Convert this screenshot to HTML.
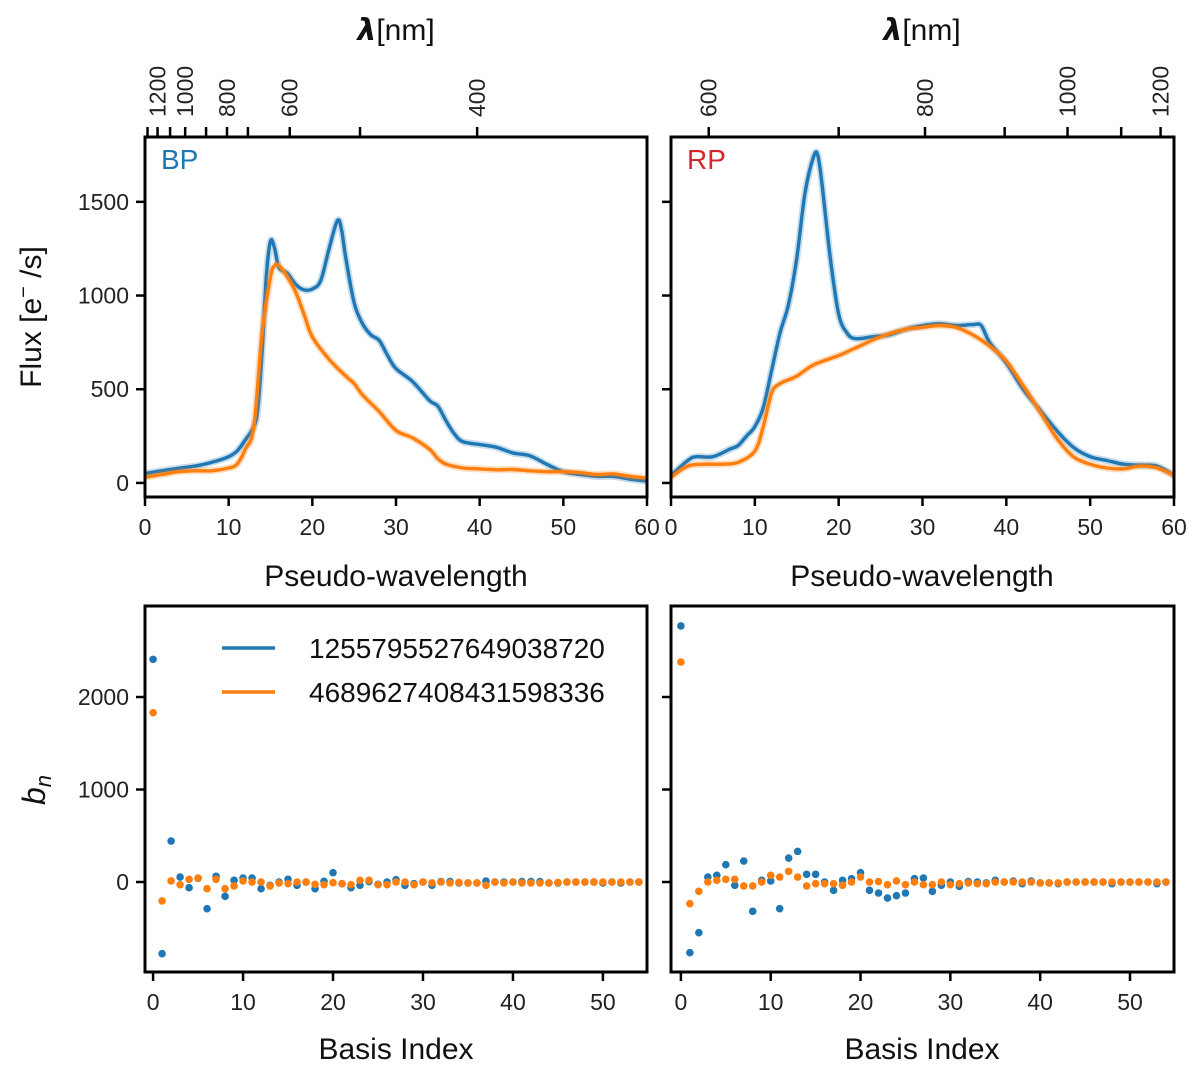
<!DOCTYPE html>
<html><head><meta charset="utf-8"><style>
body{margin:0;background:#fff}
svg{display:block;font-family:"Liberation Sans",sans-serif}
</style></head><body>
<svg id="fig" width="1200" height="1069" viewBox="0 0 1200 1069"></svg>
<script>
const bpX=[0,2,4,6,8,10,11,12,13,13.5,14,14.5,15,15.5,16,17,18,19,20,21,22,23,23.5,24,25,26,27,28,29,30,32,34,35,36,37,38,40,42,44,46,48,50,52,54,56,58,60];
const bpBlue=[50,65,78,90,110,140,170,230,300,400,700,1100,1290,1250,1150,1120,1060,1030,1035,1080,1250,1400,1350,1200,960,850,790,760,680,610,540,440,410,330,260,220,205,190,160,145,100,60,45,35,35,20,10];
const bpOrX=[0,2,4,6,8,10,11,12,13,14,15,15.5,16,17,18,19,20,22,24,25,26,28,30,32,34,35,36,38,40,42,44,46,48,50,52,54,56,58,60];
const bpOrange=[30,45,60,65,65,80,100,180,300,800,1100,1160,1160,1100,1020,900,780,660,570,530,470,380,280,240,180,130,100,80,75,70,72,65,60,60,55,45,48,35,25];
const rpX=[0,2,3,5,7,8,9,10,11,12,13,14,15,16,17,17.5,18,19,20,21,22,24,26,28,30,32,34,36,37,38,40,42,44,46,48,50,52,54,56,58,60];
const rpBlue=[40,120,140,140,180,200,250,300,400,600,800,950,1200,1550,1740,1750,1600,1200,900,800,770,780,790,820,840,850,840,845,840,750,640,500,390,280,190,140,120,100,95,90,40];
const rpOrX=[0,2,4,6,8,10,11,12,13,15,17,20,22,25,28,30,32,34,36,38,40,42,44,46,48,50,52,54,56,58,60];
const rpOrange=[30,90,100,100,110,170,300,480,530,570,630,680,720,780,820,830,840,830,790,730,650,520,380,240,140,100,80,75,90,80,40];
const bnBPBlue=[2407,-775,443,54,-61,40,-288,61,-155,18,43,43,-72,-36,0,29,-36,0,-72,7,101,-18,-61,-36,5,-25,0,25,-36,-18,0,-36,5,5,-10,-10,-10,10,0,0,0,5,5,5,-10,-10,0,0,0,0,-10,0,-10,0,0];
const bnBPOrange=[1830,-205,11,-29,29,43,-72,29,-72,-43,11,0,0,-43,-11,-18,0,0,-25,-29,-7,-18,-29,18,18,-29,-29,0,0,-29,0,-10,0,-10,-5,-10,-10,-36,0,-10,0,-10,-10,-10,-10,-5,0,0,0,0,0,0,0,0,0];
const bnRPBlue=[2768,-764,-548,54,72,187,-36,227,-317,18,11,-288,259,331,83,83,0,-90,18,36,101,-90,-119,-173,-148,-119,36,43,-101,-36,0,-47,5,0,-10,18,0,10,-18,10,-10,-10,-18,0,0,0,0,0,-18,0,0,0,0,-18,0];
const bnRPOrange=[2378,-234,-101,0,18,29,29,-43,-43,0,72,54,115,54,-43,-18,-18,-18,-36,0,54,0,5,-29,11,-29,0,-29,-29,0,-29,-18,-10,-18,-18,0,0,0,0,0,-10,-10,-10,0,0,0,0,0,0,0,0,0,0,0,0];
const fluxTicks=[0,500,1000,1500];
const bnTicks=[0,1000,2000];
const pxTicks=[0,10,20,30,40,50,60];
const idxTicks=[0,10,20,30,40,50];
const bpNmLabels=[1200,1000,800,600,400];
const bpNmMinor=[1300,1100,900,700,500];
const rpNmLabels=[600,800,1000,1200];
const rpNmMinor=[700,900,1100];

const NS='http://www.w3.org/2000/svg';
const svg=document.getElementById('fig');
const BLUE='#1f77b4',ORANGE='#ff7f0e';
function el(tag,attrs,parent){const e=document.createElementNS(NS,tag);for(const k in attrs)e.setAttribute(k,attrs[k]);(parent||svg).appendChild(e);return e;}
function txt(s,attrs,parent){const e=el('text',attrs,parent);e.textContent=s;return e;}

const bpNmPos={1300:0.3,1200:1.5,1100:3.0,1000:4.8,900:7.3,800:9.8,700:12.3,600:17.3,500:25.7,400:39.7};
const rpNmPos={600:4.5,700:20.0,800:30.3,900:39.8,1000:47.3,1100:53.7,1200:58.4};

function smooth(pts){
  let d='M'+pts[0][0].toFixed(1)+','+pts[0][1].toFixed(1);
  for(let i=0;i<pts.length-1;i++){
    const p0=pts[i-1]||pts[i],p1=pts[i],p2=pts[i+1],p3=pts[i+2]||p2;
    const c1=[p1[0]+(p2[0]-p0[0])/6,p1[1]+(p2[1]-p0[1])/6];
    const c2=[p2[0]-(p3[0]-p1[0])/6,p2[1]-(p3[1]-p1[1])/6];
    d+=`C${c1[0].toFixed(1)},${c1[1].toFixed(1)} ${c2[0].toFixed(1)},${c2[1].toFixed(1)} ${p2[0].toFixed(1)},${p2[1].toFixed(1)}`;
  }
  return d;
}

function panel(o){
  const g=el('g',{});
  
  
  const X=v=>o.x0+(v-o.xmin)/(o.xmax-o.xmin)*(o.x1-o.x0);
  const Y=v=>o.y1-(v-o.ymin)/(o.ymax-o.ymin)*(o.y1-o.y0);
  o.yticks.forEach(t=>{
    el('line',{x1:o.x0-9,x2:o.x0,y1:Y(t),y2:Y(t),stroke:'#000','stroke-width':2.5},g);
    if(o.ylabels){const e=txt(String(t),{x:o.x0-16,y:Y(t)+8,'text-anchor':'end','font-size':23,fill:'#222'},g);
      }
  });
  o.xticks.forEach(t=>{
    el('line',{x1:X(t),x2:X(t),y1:o.y1,y2:o.y1+9,stroke:'#000','stroke-width':2.5},g);
    const e=txt(String(t),{x:X(t),y:o.y1+38,'text-anchor':'middle','font-size':23,fill:'#222'},g);
    
  });
  o.lines&&o.lines.forEach(s=>{
    const d=smooth(s.x.map((v,i)=>[X(v),Y(s.y[i])]));
    el('path',{d:d,fill:'none',stroke:s.c,'stroke-width':7,'stroke-opacity':0.25,'stroke-linejoin':'round'},g);
    const p=el('path',{d:d,fill:'none',stroke:s.c,'stroke-width':3.4,'stroke-linejoin':'round'},g);
    
  });
  o.dots&&o.dots.forEach(s=>{
    s.y.forEach((v,i)=>{
      const c=el('circle',{cx:X(i),cy:Y(v),r:3.8,fill:s.c},g);
      
      
    });
  });
  el('rect',{x:o.x0,y:o.y0,width:o.x1-o.x0,height:o.y1-o.y0,fill:'none',stroke:'#000','stroke-width':3},g);
  if(o.top){
    o.top.minor.forEach(nm=>{const x=X(o.top.pos[nm]);el('line',{x1:x,x2:x,y1:o.y0-10,y2:o.y0,stroke:'#000','stroke-width':2.5},g);});
    o.top.labels.forEach(nm=>{const x=X(o.top.pos[nm]);el('line',{x1:x,x2:x,y1:o.y0-10,y2:o.y0,stroke:'#000','stroke-width':2.5},g);
      const e=txt(String(nm),{x:0,y:0,'text-anchor':'start','font-size':23,fill:'#222',transform:`translate(${x+8},${o.y0-20}) rotate(-90)`},g);
      });
  }
  return g;
}

panel({name:'bp-flux-panel',x0:145,x1:647,y0:137,y1:497,xmin:0,xmax:60,ymin:-75,ymax:1846,yticks:fluxTicks,ylabels:true,xticks:pxTicks,
 lines:[{x:bpX,y:bpBlue,c:BLUE,n:'bp-blue-line'},{x:bpOrX,y:bpOrange,c:ORANGE,n:'bp-orange-line'}],
 top:{labels:bpNmLabels,minor:bpNmMinor,pos:bpNmPos}});
panel({name:'rp-flux-panel',x0:671,x1:1174,y0:137,y1:497,xmin:0,xmax:60,ymin:-75,ymax:1846,yticks:fluxTicks,ylabels:false,xticks:pxTicks,
 lines:[{x:rpX,y:rpBlue,c:BLUE,n:'rp-blue-line'},{x:rpOrX,y:rpOrange,c:ORANGE,n:'rp-orange-line'}],
 top:{labels:rpNmLabels,minor:rpNmMinor,pos:rpNmPos}});
panel({name:'bp-coeff-panel',x0:145,x1:647,y0:606,y1:972,xmin:-0.9,xmax:54.9,ymin:-973,ymax:2984,yticks:bnTicks,ylabels:true,xticks:idxTicks,
 dots:[{y:bnBPBlue,c:BLUE,n:'bp-blue-coeff'},{y:bnBPOrange,c:ORANGE,n:'bp-orange-coeff'}]});
panel({name:'rp-coeff-panel',x0:671,x1:1174,y0:606,y1:972,xmin:-1.1,xmax:54.9,ymin:-973,ymax:2984,yticks:bnTicks,ylabels:false,xticks:idxTicks,
 dots:[{y:bnRPBlue,c:BLUE,n:'rp-blue-coeff'},{y:bnRPOrange,c:ORANGE,n:'rp-orange-coeff'}]});
</script>
<svg width="1200" height="1069" style="position:absolute;left:0;top:0;font-family:'Liberation Sans',sans-serif">
<text x="396" y="40" text-anchor="middle" font-size="30" fill="#111"><tspan font-style="italic" font-weight="bold" font-family="'DejaVu Sans',sans-serif">λ</tspan>[nm]</text>
<text x="922" y="40" text-anchor="middle" font-size="30" fill="#111"><tspan font-style="italic" font-weight="bold" font-family="'DejaVu Sans',sans-serif">λ</tspan>[nm]</text>
<text x="161" y="169" font-size="28" fill="#1f77b4">BP</text>
<text x="687" y="169" font-size="28" fill="#d62728">RP</text>
<text x="396" y="586" text-anchor="middle" font-size="30" fill="#111">Pseudo-wavelength</text>
<text x="922" y="586" text-anchor="middle" font-size="30" fill="#111">Pseudo-wavelength</text>
<text x="396" y="1059" text-anchor="middle" font-size="30" fill="#111">Basis Index</text>
<text x="922" y="1059" text-anchor="middle" font-size="30" fill="#111">Basis Index</text>
<text transform="translate(41,317) rotate(-90)" text-anchor="middle" font-size="30" fill="#111">Flux [e<tspan baseline-shift="super" font-size="20">−</tspan> /s]</text>
<text transform="translate(45,790) rotate(-90)" text-anchor="middle" font-size="32" font-style="italic" fill="#111">b<tspan font-size="22" dy="6">n</tspan></text>
<g>
<line x1="222" x2="275" y1="648" y2="648" stroke="#1f77b4" stroke-width="3.5"/>
<text x="309" y="658" font-size="28" fill="#111">1255795527649038720</text>
<line x1="222" x2="275" y1="692" y2="692" stroke="#ff7f0e" stroke-width="3.5"/>
<text x="309" y="702" font-size="28" fill="#111">4689627408431598336</text>
</g>
</svg>
</body></html>
